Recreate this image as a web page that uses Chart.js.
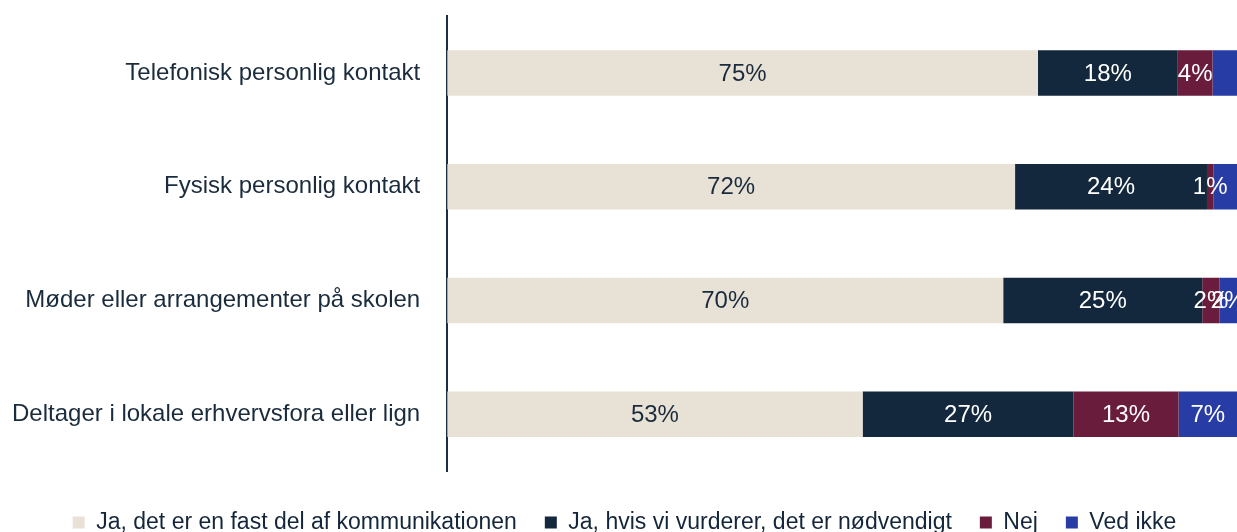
<!DOCTYPE html>
<html>
<head>
<meta charset="utf-8">
<script src="https://cdn.jsdelivr.net/npm/chart.js@4.4.1/dist/chart.umd.min.js"></script>
<style>
  html, body { margin: 0; padding: 0; background: #fff; }
  #wrap { width: 1237px; height: 532px; }
</style>
</head>
<body>
<div id="wrap"><canvas id="chart" width="1237" height="532"></canvas></div>
<script>
// ===== data =====
const categories = [
  "Telefonisk personlig kontakt",
  "Fysisk personlig kontakt",
  "Møder eller arrangementer på skolen",
  "Deltager i lokale erhvervsfora eller lign"
];
const seriesNames = [
  "Ja, det er en fast del af kommunikationen",
  "Ja, hvis vi vurderer, det er nødvendigt",
  "Nej",
  "Ved ikke"
];
const jaFast = [74.8, 71.9, 70.4, 52.6];
const jaHvis = [17.7, 24.3, 25.2, 26.7];
const nej = [4.4, 0.8, 2.2, 13.3];
const vedIkke = [3.1, 3.0, 2.2, 7.4];
// the two smallest "Ved ikke" bars carry no label in the original
const vedIkkeLabelShown = [false, false, true, true];

const colors = ["#e8e1d6", "#13283c", "#6a1c3c", "#283ca6"];
const labelColors = ["#1a2b3c", "#ffffff", "#ffffff", "#ffffff"];
const FONT = "Arial, 'Liberation Sans', sans-serif";

// simple value labels in the middle of each segment
const segmentLabels = {
  id: "segmentLabels",
  afterDatasetsDraw(chart) {
    const ctx = chart.ctx;
    ctx.save();
    ctx.font = "24px " + FONT;
    ctx.textAlign = "center";
    ctx.textBaseline = "middle";
    chart.data.datasets.forEach((ds, di) => {
      const meta = chart.getDatasetMeta(di);
      meta.data.forEach((bar, i) => {
        if (di === 3 && !vedIkkeLabelShown[i]) return;
        const v = ds.data[i];
        ctx.fillStyle = labelColors[di];
        ctx.fillText(Math.round(v) + "%", (bar.x + bar.base) / 2, bar.y + 1);
      });
    });
    ctx.restore();
  }
};

new Chart(document.getElementById("chart"), {
  type: "bar",
  data: {
    labels: categories,
    datasets: [jaFast, jaHvis, nej, vedIkke].map((d, i) => ({
      label: seriesNames[i],
      data: d,
      backgroundColor: colors[i],
      borderWidth: 0,
      barPercentage: 0.4,
      categoryPercentage: 1
    }))
  },
  options: {
    indexAxis: "y",
    responsive: false,
    animation: false,
    layout: { padding: { top: 16, right: 0, left: 12, bottom: -12 } },
    scales: {
      x: { stacked: true, min: 0, max: 100, display: false },
      y: {
        stacked: true,
        grid: {
          display: true,
          drawOnChartArea: false,
          drawTicks: true,
          tickLength: 27,
          color: "rgba(0,0,0,0)"
        },
        border: { display: true, color: "#1a2e44", width: 2 },
        ticks: {
          padding: 0,
          color: "#1a2b3c",
          font: { family: FONT, size: 24 }
        }
      }
    },
    plugins: {
      tooltip: { enabled: false },
      legend: {
        position: "bottom",
        title: { display: true, text: " ", font: { size: 10 }, padding: 0 },
        labels: {
          boxWidth: 12,
          boxHeight: 12,
          padding: 28,
          color: "#14263a",
          font: { family: FONT, size: 23 }
        }
      }
    }
  },
  plugins: [segmentLabels]
});
</script>
</body>
</html>
